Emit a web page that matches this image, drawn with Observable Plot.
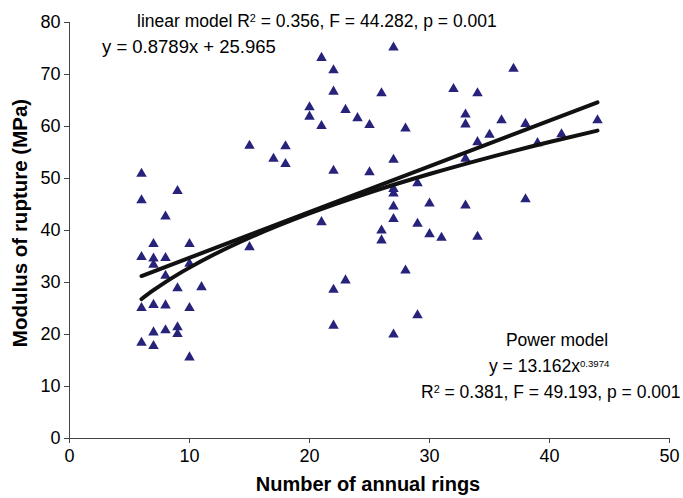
<!DOCTYPE html>
<html><head><meta charset="utf-8">
<script src="https://cdn.jsdelivr.net/npm/d3@7"></script>
<script src="https://cdn.jsdelivr.net/npm/@observablehq/plot@0.6"></script>
<style>body{margin:0;background:#fff;}</style>
</head><body><div id="chart"></div>
<script>
// Observed points: number of annual rings (x) and modulus of rupture in MPa (y)
const rings = [
  6,6,6,6,6,
  7,7,7,7,7,7,
  8,8,8,8,8,
  9,9,9,9,
  10,10,10,10,
  11,
  15,15,
  17,
  18,18,
  20,20,
  21,21,21,
  22,22,22,22,22,
  23,23,
  24,
  25,25,
  26,26,26,
  27,27,27,27,27,27,27,
  28,28,
  29,29,29,
  30,30,
  31,
  32,
  33,33,33,33,
  34,34,34,
  35,
  36,
  37,
  38,38,
  39,
  41,
  44
];
const mor = [
  50.9,45.8,34.9,25.1,18.4,
  37.4,34.6,33.4,25.7,20.4,17.8,
  42.7,34.7,31.3,25.6,20.8,
  47.6,28.9,21.4,20.1,
  37.4,33.6,25.1,15.6,
  29.1,
  56.3,36.8,
  53.8,
  56.2,52.8,
  63.7,61.9,
  73.2,60.1,41.6,
  70.8,66.7,51.5,28.6,21.7,
  63.2,30.4,
  61.6,
  60.3,51.2,
  66.4,40.0,38.1,
  75.2,53.6,48.0,47.1,44.6,42.2,20.0,
  59.6,32.3,
  49.1,41.3,23.7,
  45.2,39.3,
  38.6,
  67.2,
  62.3,60.4,53.8,44.8,
  66.4,57.0,38.8,
  58.4,
  61.2,
  71.1,
  60.5,46.0,
  56.8,
  58.5,
  61.2
];
// Trend lines as drawn
const linearX = [6, 44];
const linearY = [31.24, 64.64];
const powerX = [6, 7, 8, 9, 10, 12, 15, 20, 25, 30, 35, 40, 44];
const powerY = [26.82, 28.52, 30.08, 31.52, 32.86, 35.33, 38.61, 43.29, 47.30, 50.86, 54.07, 57.01, 59.21];
// Ticks
const xTicks = [0, 10, 20, 30, 40, 50];
const yTicks = [0, 10, 20, 30, 40, 50, 60, 70, 80];

const points = rings.map((r, i) => ({x: r, y: mor[i]}));
const linear = linearX.map((x, i) => ({x, y: linearY[i]}));
const power = powerX.map((x, i) => ({x, y: powerY[i]}));

const FONT = "'Liberation Sans', Arial, sans-serif";

const chart = Plot.plot({
  width: 683,
  height: 498,
  marginLeft: 69,
  marginRight: 14,
  marginTop: 22,
  marginBottom: 60,
  style: {fontFamily: FONT, fontSize: "18px", color: "#000", background: "#fff", overflow: "visible"},
  x: {domain: [0, 50]},
  y: {domain: [0, 80]},
  marks: [
    Plot.axisX(xTicks, {tickSize: 5, tickPadding: 6, label: null, stroke: "#444"}),
    Plot.axisY(yTicks, {tickSize: 5, tickPadding: 4, label: null, stroke: "#444"}),
    Plot.ruleY([0], {stroke: "#444"}),
    Plot.ruleX([0], {stroke: "#444"}),
    Plot.dot(points, {x: "x", y: "y", symbol: "triangle", r: 3.9, fill: "#27237a", stroke: "none"}),
    Plot.line(linear, {x: "x", y: "y", stroke: "#111", strokeWidth: 4}),
    Plot.line(power, {x: "x", y: "y", stroke: "#111", strokeWidth: 4, curve: "monotone-x"})
  ]
});
document.getElementById("chart").append(chart);

const svg = d3.select(chart);
const g = svg.append("g").attr("font-family", FONT).attr("fill", "#000");

function addText(x, y, parts, opts = {}) {
  const t = g.append("text").attr("x", x).attr("y", y)
    .attr("font-size", opts.size || 17.5)
    .attr("text-anchor", opts.anchor || "start");
  if (opts.bold) t.attr("font-weight", "bold");
  if (opts.rotate) t.attr("transform", `rotate(-90 ${x} ${y})`);
  parts.forEach(p => {
    const s = t.append("tspan").text(p.t);
    if (p.sup) s.attr("font-size", p.supSize || "0.62em").attr("dy", "-0.5em");
    if (p.after) s.attr("dy", "0.31em");
  });
  return t;
}

addText(137, 27, [{t: "linear model R"}, {t: "2", sup: true}, {t: " = 0.356, F = 44.282, p = 0.001", after: true}]);
addText(102, 53, [{t: "y = 0.8789x + 25.965"}], {size: 18.5});
addText(557, 346, [{t: "Power model"}], {anchor: "middle"});
addText(489, 372, [{t: "y = 13.162x"}, {t: "0.3974", sup: true, supSize: "0.55em"}]);
addText(421, 398, [{t: "R"}, {t: "2", sup: true}, {t: " = 0.381, F = 49.193, p = 0.001", after: true}]);

addText(368, 491, [{t: "Number of annual rings"}], {anchor: "middle", bold: true, size: 20});
addText(27, 223, [{t: "Modulus of rupture (MPa)"}], {anchor: "middle", bold: true, size: 20.5, rotate: true});
</script>
</body></html>
